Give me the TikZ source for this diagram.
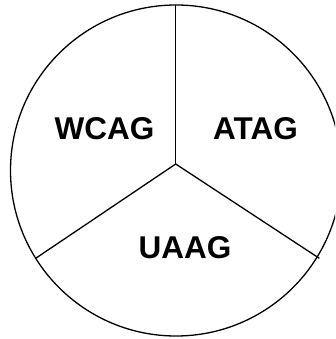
\documentclass[tikz,border=0pt]{standalone}
\usepackage{fontspec}
\setmainfont{Liberation Sans}
\begin{document}
\begin{tikzpicture}[x=1pt,y=-1pt,
  edge/.style={draw=black,line width=1.3pt},
  lbl/.style={font=\fontsize{31.5}{36}\selectfont\bfseries,inner sep=0pt,anchor=center}]
\useasboundingbox (0,0) rectangle (335,339);
\clip (0,0) rectangle (335,339);
\draw[edge] (176,170.5) circle[radius=165.5];
\coordinate (c) at (175.7,164);
\coordinate (t) at (175.7,5);
\coordinate (l) at (35.7,258.3);
\coordinate (r) at (319.3,258.3);
\draw[edge] (c) -- (t);
\draw[edge] (c) -- (l);
\draw[edge] (c) -- (r);
\node[lbl] (wcag) at (104.5,128.5) {WCAG};
\node[lbl] (atag) at (255.5,128.5) {ATAG};
\node[lbl] (uaag) at (185,247.5) {UAAG};
\end{tikzpicture}
\end{document}
